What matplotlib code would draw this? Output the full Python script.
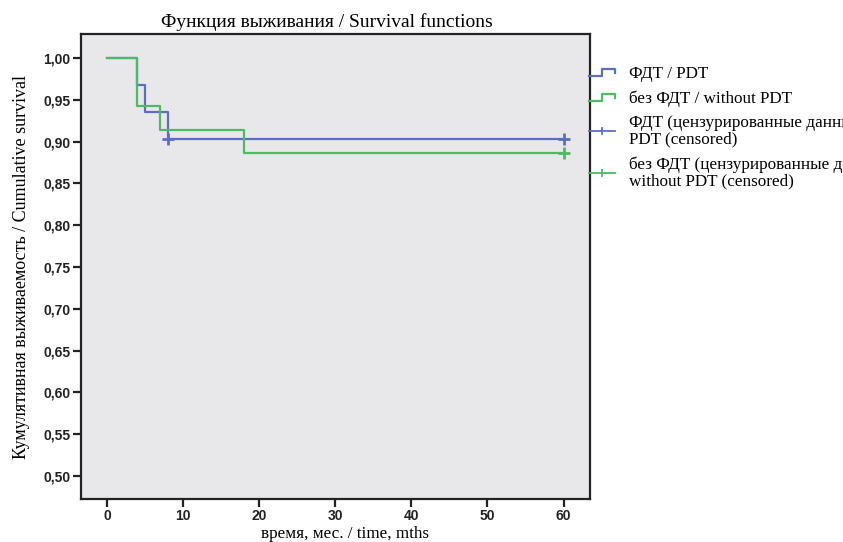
import matplotlib
matplotlib.use("Agg")
import matplotlib.pyplot as plt
from matplotlib.lines import Line2D
from matplotlib.legend_handler import HandlerBase

# Kaplan-Meier estimates
pdt_time = [0, 4, 5, 8, 60]
pdt_surv = [1.0, 0.968, 0.935, 0.903, 0.903]
pdt_cens_time = [8, 60]
pdt_cens_surv = [0.903, 0.903]

nopdt_time = [0, 4, 7, 18, 60]
nopdt_surv = [1.0, 0.943, 0.914, 0.886, 0.886]
nopdt_cens_time = [60]
nopdt_cens_surv = [0.886]

x_ticks = [0, 10, 20, 30, 40, 50, 60]
y_ticks = [0.50, 0.55, 0.60, 0.65, 0.70, 0.75, 0.80, 0.85, 0.90, 0.95, 1.00]

labels = [
    "ФДТ / PDT",
    "без ФДТ / without PDT",
    "ФДТ (цензурированные данные) /\nPDT (censored)",
    "без ФДТ (цензурированные данные) /\nwithout PDT (censored)",
]

BLUE = "#5a6fc2"
GREEN = "#4cbb64"
SERIF = ["Liberation Serif", "DejaVu Serif"]
SANS = ["Liberation Sans", "DejaVu Sans"]


class StepHandler(HandlerBase):
    # little step-shaped icon like SPSS uses for survival lines
    def create_artists(self, legend, orig, xd, yd, width, height, fontsize, trans):
        x0, y0 = -xd, -yd
        xs = [x0, x0 + 0.5 * width, x0 + 0.5 * width, x0 + width, x0 + width]
        ys = [y0 + 0.15 * height, y0 + 0.15 * height, y0 + 0.7 * height,
              y0 + 0.7 * height, y0 + 0.4 * height]
        ln = Line2D(xs, ys, color=orig.get_color(), lw=orig.get_linewidth(),
                    transform=trans)
        return [ln]


class CrossHandler(HandlerBase):
    def create_artists(self, legend, orig, xd, yd, width, height, fontsize, trans):
        x0, y0 = -xd, -yd
        cy = y0 + 0.5 * height
        h = Line2D([x0, x0 + width], [cy, cy], color=orig.get_color(), lw=1.3,
                   transform=trans)
        v = Line2D([x0 + 0.5 * width] * 2, [cy - 0.25 * height, cy + 0.25 * height],
                   color=orig.get_color(), lw=1.3, transform=trans)
        return [h, v]


fig = plt.figure(figsize=(8.43, 5.42), dpi=100)
ax = fig.add_axes([0.0961, 0.0793, 0.604, 0.858])
ax.set_facecolor("#e8e8ea")

l1, = ax.step(pdt_time, pdt_surv, where="post", color=BLUE, lw=1.6)
l2, = ax.step(nopdt_time, nopdt_surv, where="post", color=GREEN, lw=1.6)
c1, = ax.plot(pdt_cens_time, pdt_cens_surv, "+", color=BLUE, ms=9, mew=2)
c2, = ax.plot(nopdt_cens_time, nopdt_cens_surv, "+", color=GREEN, ms=9, mew=2)

ax.set_xlim(-3.4, 63.5)
ax.set_ylim(0.4725, 1.0287)
ax.set_xticks(x_ticks)
ax.set_yticks(y_ticks)
ax.set_xticklabels([str(t) for t in x_ticks])
ax.set_yticklabels([f"{v:.2f}".replace(".", ",") for v in y_ticks])
for lab in ax.get_xticklabels() + ax.get_yticklabels():
    lab.set_fontweight("bold")
    lab.set_fontsize(10)
    lab.set_family(SANS)
    lab.set_color("#222222")
ax.tick_params(length=5.5, width=1.6, color="#222222", pad=2)
for s in ax.spines.values():
    s.set_linewidth(1.6)
    s.set_color("#222222")

ax.set_title("Функция выживания / Survival functions", fontsize=14,
             family=SERIF, x=0.483, pad=5)
ax.set_xlabel("время, мес. / time, mths", fontsize=12.3, family=SERIF)
ax.xaxis.set_label_coords(0.519, -0.058)
ax.set_ylabel("Кумулятивная выживаемость / Cumulative survival", fontsize=13,
              family=SERIF, labelpad=10)

leg = fig.legend([l1, l2, c1, c2], labels, loc="upper left",
                 bbox_to_anchor=(0.699, 0.879), frameon=False,
                 prop={"family": SERIF, "size": 12.3},
                 handler_map={l1: StepHandler(), l2: StepHandler(),
                              c1: CrossHandler(), c2: CrossHandler()},
                 handlelength=1.5, handletextpad=0.85, labelspacing=0.5,
                 borderpad=0, borderaxespad=0)
for t in leg.get_texts():
    t.set_linespacing(1.05)

fig.savefig("out.png", dpi=100)
plt.close(fig)
